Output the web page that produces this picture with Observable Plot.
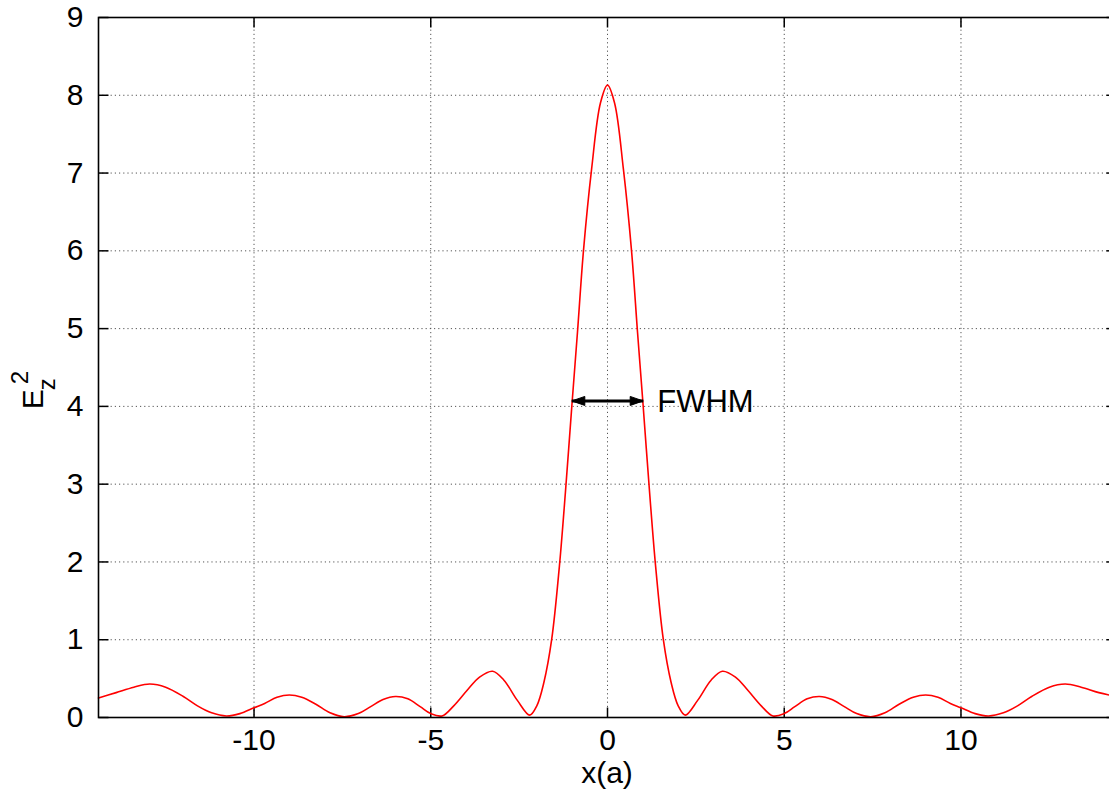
<!DOCTYPE html>
<html><head><meta charset="utf-8">
<script src="https://cdn.jsdelivr.net/npm/d3@7"></script>
<script src="https://cdn.jsdelivr.net/npm/@observablehq/plot@0.6"></script>
<style>html,body{margin:0;padding:0;overflow:hidden;background:#fff} svg{max-width:none !important;}</style>
</head><body><div id="chart"></div>
<script>
// E_z^2 profile
const xValues = [
  -14.4, -13.9, -13.4, -12.95, -12.5, -12.0, -11.6, -11.2, -10.78, -10.4, -10.0, -9.7, -9.35, -9.0,
  -8.65, -8.25, -7.85, -7.45, -7.05, -6.7, -6.35, -6.0, -5.65, -5.3, -5.0, -4.68, -4.35, -3.97,
  -3.62, -3.25, -2.93, -2.55, -2.2, -2.0, -1.8, -1.58, -1.36, -1.19, -1.0, -0.85, -0.68, -0.45, -0.2, 0,
  0.2, 0.45, 0.68, 0.85, 1.0, 1.19, 1.36, 1.58, 1.8, 2.0, 2.2, 2.55, 2.93, 3.25, 3.62, 3.97, 4.35,
  4.68, 5.0, 5.3, 5.65, 6.0, 6.35, 6.7, 7.05, 7.45, 7.85, 8.25, 8.65, 9.0, 9.35, 9.7, 10.0, 10.4,
  10.78, 11.2, 11.6, 12.0, 12.5, 12.95, 13.4, 13.9, 14.4
];
const ezValues = [
  0.25, 0.32, 0.39, 0.43, 0.39, 0.27, 0.15, 0.06, 0.02, 0.05, 0.125, 0.18, 0.26, 0.29,
  0.26, 0.17, 0.06, 0.01, 0.05, 0.14, 0.23, 0.27, 0.24, 0.14, 0.05, 0.02, 0.15, 0.35,
  0.52, 0.595, 0.48, 0.22, 0.03, 0.15, 0.45, 1.0, 1.95, 2.9, 4.06, 4.95, 6.0, 7.05, 7.9, 8.13,
  7.9, 7.05, 6.0, 4.95, 4.06, 2.9, 1.95, 1.0, 0.45, 0.15, 0.03, 0.22, 0.48, 0.595, 0.52, 0.35, 0.15,
  0.02, 0.05, 0.14, 0.24, 0.27, 0.23, 0.14, 0.05, 0.01, 0.06, 0.17, 0.26, 0.29, 0.26, 0.18, 0.125, 0.05,
  0.02, 0.06, 0.15, 0.27, 0.39, 0.43, 0.39, 0.32, 0.27
];
const xTicks = [-10, -5, 0, 5, 10];
const yTicks = [0, 1, 2, 3, 4, 5, 6, 7, 8, 9];
const xDomain = [-14.4, 14.4];
const yDomain = [0, 9];
const fwhmX = [-1.01, 1.01];
const fwhmY = 4.07;
const fwhmLabel = "FWHM";
const xLabel = "x(a)";

const data = xValues.map((x, i) => ({x, y: ezValues[i]}));
const tickLen = 10;
const tickSym = (dx, dy) => ({draw(ctx) { ctx.moveTo(0, 0); ctx.lineTo(dx, dy); }});
const headSym = (dir) => ({draw(ctx) {
  ctx.moveTo(0, 0); ctx.lineTo(dir * 13, -4.5); ctx.lineTo(dir * 13, 4.5); ctx.closePath();
}});
const font = "'Liberation Sans', Arial, Helvetica, sans-serif";
const fmt = d => String(d);

const chart = Plot.plot({
  width: 1116,
  height: 793,
  marginLeft: 98,
  marginRight: 0,
  marginTop: 17,
  marginBottom: 76,
  style: {fontFamily: font, fontSize: "30px", color: "#000", background: "#fff"},
  x: {domain: xDomain, ticks: xTicks, tickFormat: fmt},
  y: {domain: yDomain, ticks: yTicks, tickFormat: fmt},
  marks: [
    Plot.gridX(xTicks, {stroke: "#555", strokeOpacity: 1, strokeWidth: 1, strokeDasharray: "1.2,3"}),
    Plot.gridY(yTicks, {stroke: "#555", strokeOpacity: 1, strokeWidth: 1, strokeDasharray: "1.2,3"}),
    Plot.axisX(xTicks, {tickSize: 0, tickPadding: 11, fontSize: 30, label: null, tickFormat: fmt}),
    Plot.axisY(yTicks, {tickSize: 0, tickPadding: 15, fontSize: 30, label: null, tickFormat: fmt}),
    Plot.dot(yTicks, {y: d => d, frameAnchor: "left", symbol: tickSym(tickLen, 0), stroke: "#000", strokeWidth: 1.5, fill: "none"}),
    Plot.dot(yTicks, {y: d => d, frameAnchor: "right", symbol: tickSym(-tickLen, 0), stroke: "#000", strokeWidth: 1.5, fill: "none"}),
    Plot.dot(xTicks, {x: d => d, frameAnchor: "bottom", symbol: tickSym(0, -tickLen), stroke: "#000", strokeWidth: 1.5, fill: "none"}),
    Plot.dot(xTicks, {x: d => d, frameAnchor: "top", symbol: tickSym(0, tickLen), stroke: "#000", strokeWidth: 1.5, fill: "none"}),
    Plot.line(data, {x: "x", y: "y", stroke: "#ff0000", strokeWidth: 1.6, curve: "catmull-rom"}),
    Plot.link([{x1: fwhmX[0], x2: fwhmX[1], y: fwhmY}], {x1: "x1", x2: "x2", y1: "y", y2: "y", stroke: "#000", strokeWidth: 3}),
    Plot.dot([{x: fwhmX[0], y: fwhmY}], {x: "x", y: "y", symbol: headSym(1), fill: "#000", stroke: "#000", strokeWidth: 1}),
    Plot.dot([{x: fwhmX[1], y: fwhmY}], {x: "x", y: "y", symbol: headSym(-1), fill: "#000", stroke: "#000", strokeWidth: 1}),
    Plot.text([fwhmLabel], {x: fwhmX[1], y: fwhmY, text: d => d, textAnchor: "start", dx: 14, dy: 1, fontSize: 31, fill: "#000"}),
    Plot.frame({stroke: "#000", strokeWidth: 1.6})
  ]
});
document.getElementById("chart").appendChild(chart);

const svg = d3.select(chart);
// x axis title
svg.append("text")
  .attr("x", 607).attr("y", 783)
  .attr("text-anchor", "middle")
  .attr("font-family", font).attr("font-size", 30).attr("fill", "#000")
  .text(xLabel);
// y axis title E_z^2
const yt = svg.append("text")
  .attr("transform", "translate(43,390) rotate(-90)")
  .attr("font-family", font).attr("font-size", 30).attr("fill", "#000");
yt.append("tspan").text("E");
yt.append("tspan").attr("font-size", 24).attr("dx", -1).attr("dy", 12).text("z");
yt.append("tspan").attr("font-size", 24).attr("dx", -6).attr("dy", -27).text("2");
</script>
</body></html>
